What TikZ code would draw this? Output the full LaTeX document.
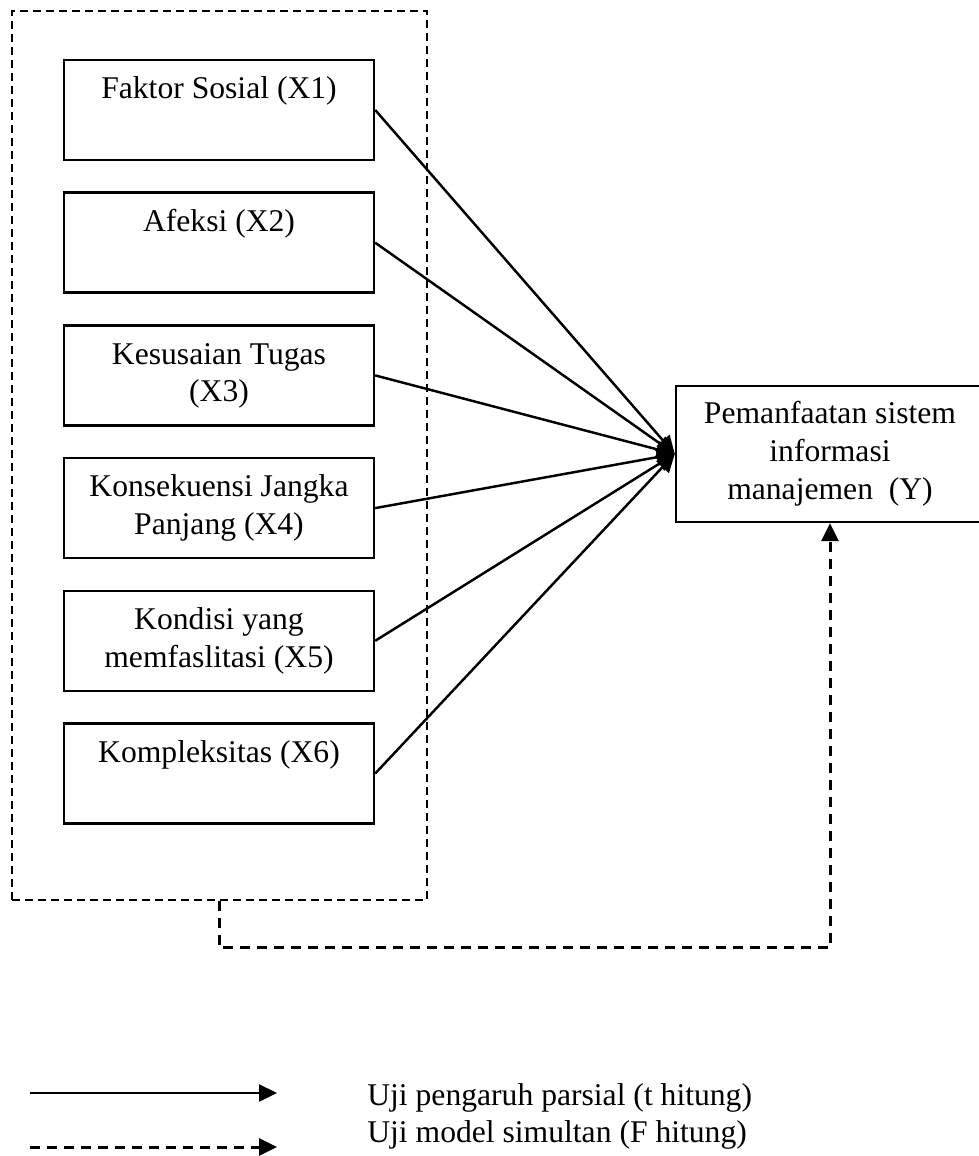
\documentclass[tikz,border=0pt]{standalone}
\usepackage{fontspec}
\setmainfont{Liberation Serif}
\usetikzlibrary{arrows.meta}

\newcommand\boxWidth{6.2cm}
\newcommand\boxHeight{2cm}
\newcommand\boxCol{219}
\newcommand\firstRow{110}
\newcommand\rowSep{132.7}
\newcommand\txtSize{\fontsize{18}{21.6}\selectfont}
\newcommand\twoLines[2]{\strut #1\\#2\strut}

\tikzset{
  varbox/.style={draw, line width=1.4pt, minimum width=\boxWidth, minimum height=\boxHeight, align=center, font=\txtSize, inner sep=0pt},
  groupline/.style={draw, line width=1.2pt, dash pattern=on 0.16cm off 0.1cm},
  simline/.style={line width=1.7pt, dash pattern=on 0.2cm off 0.14cm},
  partline/.style={line width=1.4pt},
  legtext/.style={anchor=base west, font=\txtSize, inner sep=0pt}
}

\begin{document}
\begin{tikzpicture}[x=0.02cm, y=-0.02cm, >={Triangle[length=0.36cm,width=0.34cm]}]
    \useasboundingbox (0,0) rectangle (978,1156);

    % dashed frame round the independent variables
    \node[groupline, minimum width=8.3cm, minimum height=17.78cm, inner sep=0pt] (grp) at (219.5,455.5) {};

    \node[varbox] (x1) at (\boxCol,\firstRow) {\twoLines{Faktor Sosial (X1)}{}};
    \node[varbox] (x2) at (\boxCol,\firstRow+\rowSep) {\twoLines{Afeksi (X2)}{}};
    \node[varbox] (x3) at (\boxCol,\firstRow+\rowSep*2) {\twoLines{Kesusaian Tugas}{(X3)}};
    \node[varbox] (x4) at (\boxCol,\firstRow+\rowSep*3) {\twoLines{Konsekuensi Jangka}{Panjang (X4)}};
    \node[varbox] (x5) at (\boxCol,\firstRow+\rowSep*4) {\twoLines{Kondisi yang}{memfaslitasi (X5)}};
    \node[varbox] (x6) at (\boxCol,\firstRow+\rowSep*5) {\twoLines{Kompleksitas (X6)}{}};

    \node[varbox, minimum width=6.16cm, minimum height=2.72cm] (y) at (830,454) {\strut Pemanfaatan sistem\\informasi\\manajemen~~(Y)\strut};

    % partial paths
    \draw[partline, ->] (x1.east) -- (y.west);
    \draw[partline, ->] (x2.east) -- (y.west);
    \draw[partline, ->] (x3.east) -- (y.west);
    \draw[partline, ->] (x4.east) -- (y.west);
    \draw[partline, ->] (x5.east) -- (y.west);
    \draw[partline, ->] (x6.east) -- (y.west);

    % simultaneous path
    \draw[simline, ->] (grp.south) -- ++(0,47) -| (y.south);

    % legend
    \coordinate (solidA) at (30,1093);
    \coordinate (solidB) at (277,1093);
    \coordinate (dashA) at (30,1147);
    \coordinate (dashB) at (277,1147);
    \draw[partline, ->] (solidA) -- (solidB);
    \draw[simline, ->] (dashA) -- (dashB);
    \node[legtext] (legpart) at (367,1105) {Uji pengaruh parsial (t hitung)};
    \node[legtext] (legsim) at (367,1142) {Uji model simultan (F hitung)};

\end{tikzpicture}
\end{document}
